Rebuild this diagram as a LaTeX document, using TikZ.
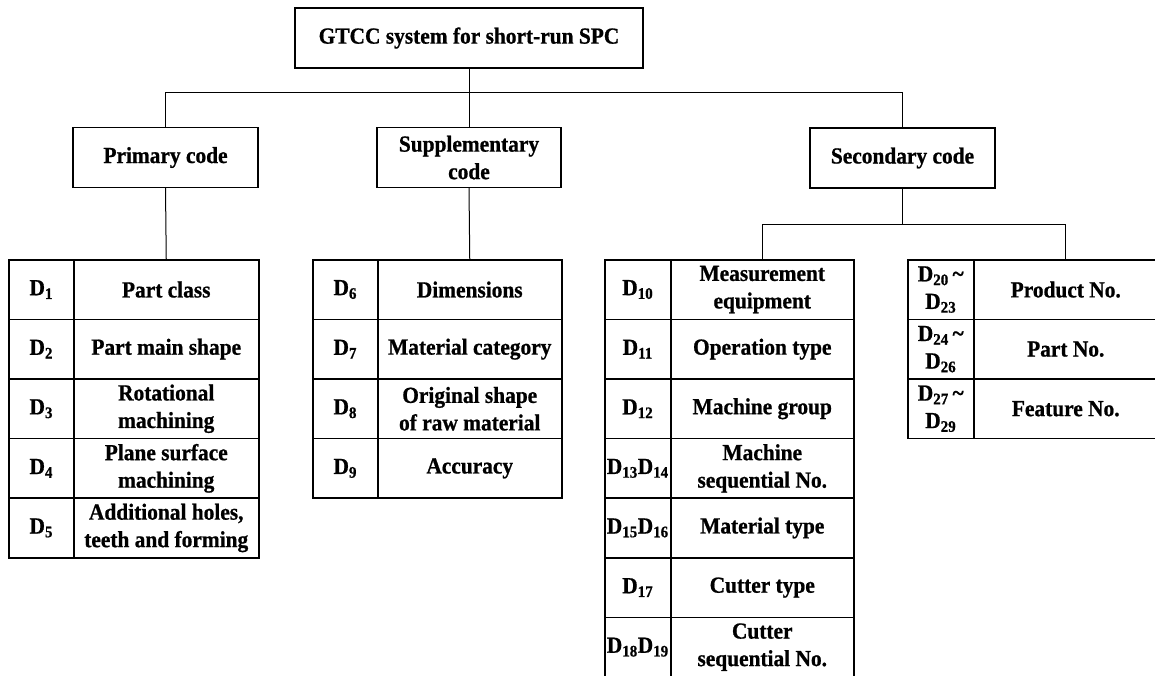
\documentclass[tikz,border=0pt]{standalone}
\usepackage{fontspec}
\setmainfont{Liberation Serif}[BoldFeatures={FakeStretch=0.93,FakeBold=0.8}]
\newcommand{\Dsub}[1]{D\textsubscript{#1}}
\begin{document}
\begin{tikzpicture}[x=1pt,y=-1pt,
  every node/.style={font=\fontsize{23}{27.5}\selectfont\bfseries, text=black},
  box/.style={draw, line width=1.2pt, inner sep=0pt, align=center},
  cell/.style={draw, line width=1.5pt, inner sep=0pt, align=center,
               anchor=north west, minimum height=59.6pt},
  codecell/.style={cell, minimum width=#1},
  labcell/.style={cell, minimum width=#1},
  link/.style={line width=1pt}]
\useasboundingbox (0,0) rectangle (1155,675);

% header boxes
\node[box, minimum width=348pt, minimum height=60pt] (top) at (469,38) {GTCC system for short-run SPC};
\node[box, minimum width=185pt, minimum height=60pt] (prim) at (165.5,157.5) {Primary code};
\node[box, minimum width=184pt, minimum height=60pt] (supp) at (469,157.5) {Supplementary\\code};
\node[box, minimum width=185pt, minimum height=60pt] (sec) at (902.5,158) {Secondary code};

% primary code table
\node[codecell=65pt] (p1a) at (8,259)     {\Dsub{1}};
\node[labcell=185pt] (p1b) at (73,259)    {Part class};
\node[codecell=65pt] (p2a) at (8,318.6)   {\Dsub{2}};
\node[labcell=185pt] (p2b) at (73,318.6)  {Part main shape};
\node[codecell=65pt] (p3a) at (8,378.2)   {\Dsub{3}};
\node[labcell=185pt] (p3b) at (73,378.2)  {Rotational\\machining};
\node[codecell=65pt] (p4a) at (8,437.8)   {\Dsub{4}};
\node[labcell=185pt] (p4b) at (73,437.8)  {Plane surface\\machining};
\node[codecell=65pt] (p5a) at (8,497.4)   {\Dsub{5}};
\node[labcell=185pt] (p5b) at (73,497.4)  {Additional holes,\\teeth and forming};

% supplementary code table
\node[codecell=65pt] (s1a) at (312,259)    {\Dsub{6}};
\node[labcell=184pt] (s1b) at (377,259)    {Dimensions};
\node[codecell=65pt] (s2a) at (312,318.6)  {\Dsub{7}};
\node[labcell=184pt] (s2b) at (377,318.6)  {Material category};
\node[codecell=65pt] (s3a) at (312,378.2)  {\Dsub{8}};
\node[labcell=184pt] (s3b) at (377,378.2)  {Original shape\\of raw material};
\node[codecell=65pt] (s4a) at (312,437.8)  {\Dsub{9}};
\node[labcell=184pt] (s4b) at (377,437.8)  {Accuracy};

% secondary code: operation table
\node[codecell=66pt] (c1a) at (604,259)    {\Dsub{10}};
\node[labcell=183pt] (c1b) at (670,259)    {Measurement\\equipment};
\node[codecell=66pt] (c2a) at (604,318.6)  {\Dsub{11}};
\node[labcell=183pt] (c2b) at (670,318.6)  {Operation type};
\node[codecell=66pt] (c3a) at (604,378.2)  {\Dsub{12}};
\node[labcell=183pt] (c3b) at (670,378.2)  {Machine group};
\node[codecell=66pt] (c4a) at (604,437.8)  {\Dsub{13}\Dsub{14}};
\node[labcell=183pt] (c4b) at (670,437.8)  {Machine\\sequential No.};
\node[codecell=66pt] (c5a) at (604,497.4)  {\Dsub{15}\Dsub{16}};
\node[labcell=183pt] (c5b) at (670,497.4)  {Material type};
\node[codecell=66pt] (c6a) at (604,557)    {\Dsub{17}};
\node[labcell=183pt] (c6b) at (670,557)    {Cutter type};
\node[codecell=66pt] (c7a) at (604,616.6)  {\Dsub{18}\Dsub{19}};
\node[labcell=183pt] (c7b) at (670,616.6)  {Cutter\\sequential No.};

% secondary code: number table
\node[codecell=66pt] (n1a) at (907,259)    {\Dsub{20}\,\textasciitilde\\\Dsub{23}};
\node[labcell=184pt] (n1b) at (973,259)    {Product No.};
\node[codecell=66pt] (n2a) at (907,318.6)  {\Dsub{24}\,\textasciitilde\\\Dsub{26}};
\node[labcell=184pt] (n2b) at (973,318.6)  {Part No.};
\node[codecell=66pt] (n3a) at (907,378.2)  {\Dsub{27}\,\textasciitilde\\\Dsub{29}};
\node[labcell=184pt] (n3b) at (973,378.2)  {Feature No.};

% connectors
\coordinate (j1) at (469,92);
\coordinate (j2) at (902.5,224);
\draw[link] (top.south) -- (j1);
\draw[link] (prim.north) -- (prim.north |- j1) -| (sec.north);
\draw[link] (j1) -- (supp.north);
\draw[link] (prim.south) -- (p1b.north);
\draw[link] (supp.south) -- (s1b.north);
\draw[link] (sec.south) -- (j2);
\draw[link] (c1b.north) -- (c1b.north |- j2) -| (n1b.north);
\end{tikzpicture}
\end{document}
